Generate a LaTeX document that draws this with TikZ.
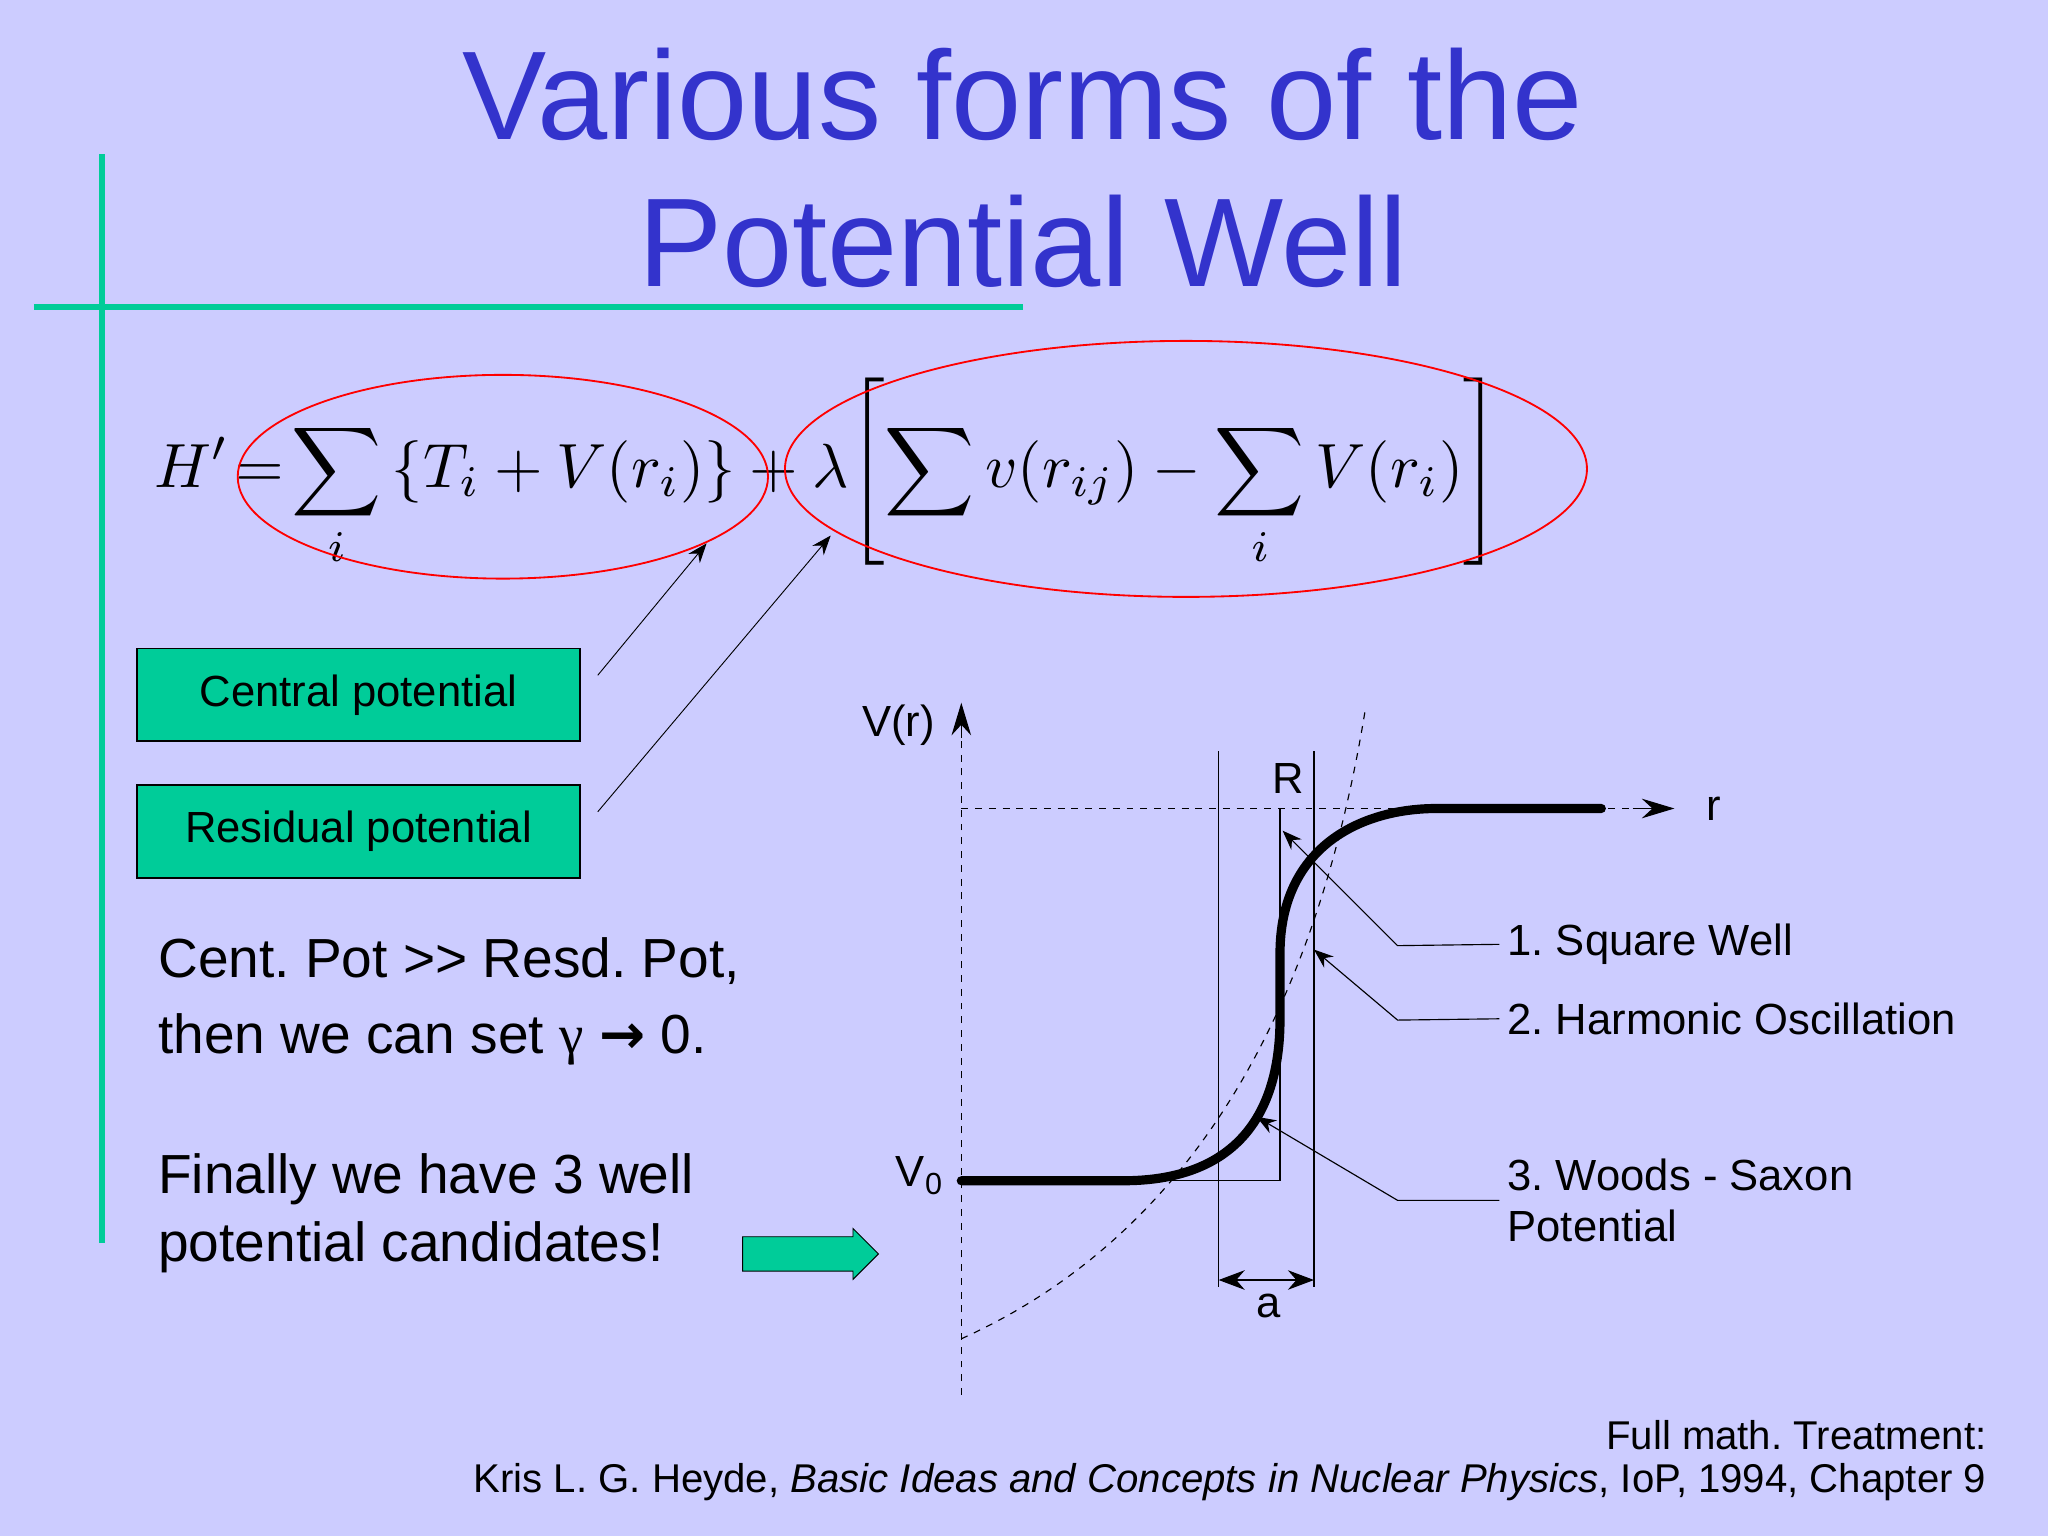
\documentclass[tikz,border=0pt]{standalone}
\usepackage{fontspec}
\usepackage{amsmath}
\setmainfont{Liberation Sans}
\newfontfamily\dejavu{DejaVu Sans}
\usetikzlibrary{arrows.meta,shapes.arrows}
\definecolor{bg}{HTML}{CCCCFF}
\definecolor{ttl}{HTML}{3333CC}
\definecolor{grn}{HTML}{00CC99}
\tikzset{
 greenbox/.style={draw=black,thick,fill=grn,minimum width=6.78cm,minimum height=1.42cm,font=\fontsize{19}{22}\selectfont},
 body/.style={anchor=west,font=\fontsize{24}{28}\selectfont},
 lbl/.style={font=\fontsize{19}{22}\selectfont},
 leader/.style={draw=black,-{Stealth[length=3mm]}},
 thin/.style={draw=black,line width=0.5pt}
}
\begin{document}
\frenchspacing
\begin{tikzpicture}[x=0.02cm,y=-0.02cm]
\fill[bg] (0,0) rectangle (1568,1176);
\useasboundingbox (0,0) rectangle (1568,1176);
% title
\node[text=ttl,font=\fontsize{55}{60}\selectfont] (t1) at (783,72) {Various forms of the};
\node[text=ttl,font=\fontsize{55}{60}\selectfont] (t2) at (783,185) {Potential Well};
\draw[grn,line width=2.5pt] (78,118) -- (78,952);
\draw[grn,line width=2.5pt] (26,235) -- (783,235);
% equation
\node[anchor=west] (eq) at (112,362) {\resizebox{20.6cm}{!}{$\displaystyle H' \!=\! \sum_i \left\{T_i + V(r_i)\right\} + \lambda\!\left[\sum v(r_{ij}) - \sum_i V(r_i)\right]$}};
\draw[red,line width=0.8pt] (385,365) ellipse [x radius=203, y radius=78];
\draw[red,line width=0.8pt] (908,359) ellipse [x radius=307, y radius=98];
\coordinate (e1) at (541,416);
\coordinate (e2) at (636,410);
% boxes
\node[greenbox] (cp) at (274.5,532) {Central potential};
\node[greenbox] (rp) at (274.5,636.5) {Residual potential};
\draw[leader] ([xshift=0.26cm,yshift=0.3cm]cp.east) -- (e1);
\draw[leader] ([xshift=0.26cm,yshift=0.3cm]rp.east) -- (e2);
% body text
\node[body] (b1) at (115,736) {Cent. Pot {\fontspec[Ligatures=NoCommon,Mapping=]{Liberation Sans}>\kern0pt>} Resd. Pot,};
\node[body] (b2) at (115,796) {then we can set {\fontspec{Liberation Serif}γ} {\dejavu\bfseries →} 0.};
\node[body] (b3) at (115,903) {Finally we have 3 well};
\node[body] (b4) at (115,955) {potential candidates!};
\node[single arrow,draw=black,fill=grn,minimum height=2.08cm,minimum width=0.78cm,inner ysep=0.2cm,inner xsep=0pt,single arrow head extend=0.1cm] (ga) at (614,960) {};
% graph
\coordinate (o) at (736,1068);
\coordinate (ytop) at (736,538);
\coordinate (x0) at (736,619);
\coordinate (xr) at (1282,619);
\draw[dashed,thin] (o) -- (736,560);
\draw[-{Stealth[length=5mm,width=3mm]},line width=0.5pt] (736,565) -- (ytop);
\draw[dashed,thin] (x0) -- (1255,619);
\draw[-{Stealth[length=5mm,width=3mm]},line width=0.5pt] (1250,619) -- (xr);
\node[lbl] (vr) at (688,555) {V(r)};
\node[lbl] (rl) at (1312,619) {r};
\node[lbl] (v0) at (704,900) {V\textsubscript{0}};
\node[lbl] (R) at (986,596) {R};
% thin lines
\draw[thin] (933,575) -- (933,985);
\draw[thin] (1006,575) -- (1006,985);
\draw[thin] (736,904) -- (980,904) -- (980,619);
\draw[dashed,thin] (736,1025) .. controls (880,960) and (1000,820) .. (1045,545);
% thick curve
\draw[line width=4pt,line cap=round] (736,904) -- (860,904) .. controls (940,904) and (980,860) .. (980,780) -- (980,730) .. controls (980,650) and (1040,619) .. (1100,619) -- (1226,619);
% a
\draw[{Stealth[length=4mm]}-{Stealth[length=4mm]},thin] (933,980) -- (1006,980);
\node[lbl] (al) at (971,1000) {a};
% labels
\node[lbl,anchor=west] (l1) at (1148,723) {1. Square Well};
\node[lbl,anchor=west] (l2) at (1148,780) {2. Harmonic Oscillation};
\node[lbl,anchor=west,align=left] (l3) at (1148,919) {3. Woods - Saxon\\Potential};
\coordinate (p1) at (982,636);
\coordinate (p2) at (1006,727);
\coordinate (p3) at (962,855);
\draw[leader,line width=0.5pt] (l1.west) -- (1070,724) -- (p1);
\draw[leader,line width=0.5pt] (l2.west) -- (1070,781) -- (p2);
\draw[leader,line width=0.5pt] (l3.west) -- (1070,919) -- (p3);
% footer
\node[anchor=east,font=\fontsize{17.5}{20}\selectfont] (f1) at (1527,1099) {Full math. Treatment:};
\node[anchor=east,font=\fontsize{17.5}{20}\selectfont] (f2) at (1527,1135) {Kris L. G. Heyde, \textit{Basic Ideas and Concepts in Nuclear Physics}, IoP, 1994, Chapter 9};
\end{tikzpicture}
\end{document}
